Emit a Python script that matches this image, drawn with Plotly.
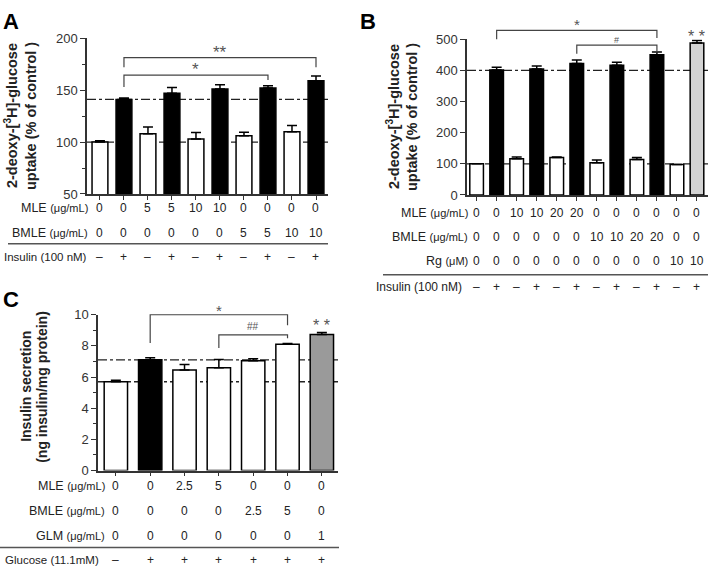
import plotly.graph_objects as go

W, H = 709, 575
FONT = "Liberation Sans, Arial, sans-serif"

# ---------------- data ----------------
A_values = [100, 141, 108, 147, 103, 151, 106, 152, 110, 159]
A_errors = [1.3, 1.3, 6.4, 5.4, 6.3, 4.1, 3.5, 2.2, 6.0, 4.7]
A_colors = ["white", "black", "white", "black", "white", "black", "white", "black", "white", "black"]
A_MLE = ["0", "0", "5", "5", "10", "10", "0", "0", "0", "0"]
A_BMLE = ["0", "0", "0", "0", "0", "0", "5", "5", "10", "10"]
A_insulin = ["–", "+", "–", "+", "–", "+", "–", "+", "–", "+"]
A_refs = [100, 141]

B_values = [100, 401, 116, 404, 120, 422, 103, 416, 114, 450, 98, 488]
B_errors = [0, 9, 6, 10, 2, 11, 9, 10, 6, 9, 0, 8]
B_colors = ["white", "black", "white", "black", "white", "black", "white", "black", "white", "black", "white", "#d3d3d3"]
B_MLE = ["0", "0", "10", "10", "20", "20", "0", "0", "0", "0", "0", "0"]
B_BMLE = ["0", "0", "0", "0", "0", "0", "10", "10", "20", "20", "0", "0"]
B_Rg = ["0", "0", "0", "0", "0", "0", "0", "0", "0", "0", "10", "10"]
B_insulin = ["–", "+", "–", "+", "–", "+", "–", "+", "–", "+", "–", "+"]
B_refs = [100, 400]

C_values = [5.7, 7.12, 6.45, 6.6, 7.05, 8.1, 8.74]
C_errors = [0.1, 0.12, 0.35, 0.53, 0.12, 0.06, 0.12]
C_colors = ["white", "black", "white", "white", "white", "white", "#9a9a9a"]
C_MLE = ["0", "0", "2.5", "5", "0", "0", "0"]
C_BMLE = ["0", "0", "0", "0", "2.5", "5", "0"]
C_GLM = ["0", "0", "0", "0", "0", "0", "1"]
C_glucose = ["–", "+", "+", "+", "+", "+", "+"]
C_refs = [5.7, 7.1]

# ---------------- layout helpers ----------------
P = {
    "A": dict(xd=(87, 328), yd=(192, 32), xr=(-0.54, 9.5), yr=(50, 200), ax="", bw=0.66),
    "B": dict(xd=(467, 708), yd=(193, 33), xr=(-0.48, 11.55), yr=(0, 500), ax="2", bw=0.68),
    "C": dict(xd=(98, 338), yd=(476, 316), xr=(-0.52, 6.47), yr=(0, 10), ax="3", bw=0.68),
}


def xpx(p, v):
    g = P[p]
    return g["xd"][0] + (v - g["xr"][0]) / (g["xr"][1] - g["xr"][0]) * (g["xd"][1] - g["xd"][0])


def ypx(p, v):
    g = P[p]
    return g["yd"][0] + (v - g["yr"][0]) / (g["yr"][1] - g["yr"][0]) * (g["yd"][1] - g["yd"][0])


def fx(px):
    return px / W


def fy(py):
    return 1 - py / H


fig = go.Figure()
shapes = []
annots = []


def note(px, py, text, size, color="#222", xa="center", ya="middle", angle=0):
    annots.append(dict(x=fx(px), y=fy(py), xref="paper", yref="paper", text=text,
                       xanchor=xa, yanchor=ya, textangle=angle, showarrow=False,
                       font=dict(size=size, color=color, family=FONT)))


def panel(p, values, errors, colors, refs, ref_dash):
    g = P[p]
    n = len(values)
    fig.add_trace(go.Bar(
        x=list(range(n)), y=values, width=g["bw"],
        marker=dict(color=colors, line=dict(color="black", width=1.5)),
        error_y=dict(type="data", symmetric=False, array=errors, arrayminus=[0] * n,
                     color="black", thickness=1.5, width=5),
        xaxis="x" + g["ax"], yaxis="y" + g["ax"], showlegend=False,
    ))
    for r, d in zip(refs, ref_dash):
        shapes.append(dict(type="line", xref="x" + g["ax"] + " domain", x0=0, x1=1,
                           yref="y" + g["ax"], y0=r, y1=r, layer="below",
                           line=dict(color="#222", width=1.3, dash=d)))


panel("A", A_values, A_errors, A_colors, A_refs, ["dash", "dashdot"])
panel("B", B_values, B_errors, B_colors, B_refs, ["dash", "dashdot"])
panel("C", C_values, C_errors, C_colors, C_refs, ["dashdot", "dashdot"])

# significance brackets: (panel, i0, i1, y_bar, y_left, y_right, label, y_label, size)
brackets = [
    ("A", 1, 9, 181.3, 172, 172, "**", 186.5, 17),
    ("A", 1, 7, 164.4, 153, 159.7, "*", 169.5, 17),
    ("B", 1, 9, 528, 500, 504, "*", 546, 15),
    ("B", 5, 9, 481, 453, 456, "#", 496, 9),
    ("C", 1, 5, 10.0, 8.19, 9.33, "*", 10.3, 15),
    ("C", 3, 5, 8.71, 7.87, 8.5, "##", 9.22, 10),
]
for p, i0, i1, yb, yl, yr_, lab, ylab, sz in brackets:
    x0, x1 = xpx(p, i0), xpx(p, i1)
    path = "M {},{} L {},{} L {},{} L {},{}".format(
        fx(x0), fy(ypx(p, yl)), fx(x0), fy(ypx(p, yb)),
        fx(x1), fy(ypx(p, yb)), fx(x1), fy(ypx(p, yr_)))
    shapes.append(dict(type="path", xref="paper", yref="paper", path=path,
                       line=dict(color="#444", width=1.2)))
    note((x0 + x1) / 2, ypx(p, ylab), lab, sz, color="#555")

# stars above single bars: (panel, index, y, label)
single_marks = [("B", 11, 509, "* *"), ("C", 6, 9.33, "* *")]
for p, i, yv, lab in single_marks:
    note(xpx(p, i), ypx(p, yv), lab, 16, color="#555")

# ---------------- condition tables ----------------
U = "<span style='font-size:11px'>(μg/mL)</span>"
# (panel, [(label, values, row y px, label right px, label size)])
tables = [
    ("A", [("MLE " + U, A_MLE, 206, 90, 12.5), ("BMLE " + U, A_BMLE, 232, 90, 12.5),
           ("Insulin (100 nM)", A_insulin, 257, 89, 11.5)]),
    ("B", [("MLE " + U, B_MLE, 212, 470, 12.5), ("BMLE " + U, B_BMLE, 236, 470, 12.5),
           ("Rg <span style='font-size:11px'>(μM)</span>", B_Rg, 261, 470, 12.5),
           ("Insulin (100 nM)", B_insulin, 287, 464, 12)]),
    ("C", [("MLE " + U, C_MLE, 492, 107, 12.5), ("BMLE " + U, C_BMLE, 517, 107, 12.5),
           ("GLM " + U, C_GLM, 543, 107, 12.5), ("Glucose (11.1mM)", C_glucose, 568, 101, 11.5)]),
]
for p, rows in tables:
    for lab, vals, py, rx, sz in rows:
        note(rx, py, lab, sz, xa="right")
        for i, v in enumerate(vals):
            note(xpx(p, i), py, v, 12)

# separator lines (pixel extents)
for x0, x1, py in [(8, 328, 243), (383, 708, 275), (0, 339, 555)]:
    shapes.append(dict(type="line", xref="paper", yref="paper", x0=fx(x0), x1=fx(x1),
                       y0=fy(py), y1=fy(py), line=dict(color="#555", width=1.5)))

# y-axis titles
ytitles = [
    ("2-deoxy-[<sup>3</sup>H]-glucose", 11, 112, 14.5), ("uptake (% of control )", 31, 112, 14.5),
    ("2-deoxy-[<sup>3</sup>H]-glucose", 393, 113, 14.5), ("uptake (% of control )", 412, 113, 14.5),
    ("Insulin secretion", 26, 390, 14), ("(ng insulin/mg protein)", 42, 390, 14),
]
for t, px, py, sz in ytitles:
    note(px, py, "<b>" + t + "</b>", sz, angle=-90)

# panel letters
for t, px, py in [("A", 1, 0), ("B", 358, 0), ("C", 1, 285)]:
    note(px, py, "<b>" + t + "</b>", 22, color="black", xa="left", ya="top")

# ---------------- axes ----------------
yticks = {"A": ([50, 100, 150, 200], [75, 125, 175]),
          "B": ([0, 100, 200, 300, 400, 500], []),
          "C": ([0, 2, 4, 6, 8, 10], [1, 3, 5, 7, 9])}
nbars = {"A": len(A_values), "B": len(B_values), "C": len(C_values)}
axstyle = dict(showline=True, linecolor="#333", linewidth=1.5, ticks="outside", tickcolor="#333",
               tickwidth=1.3, showgrid=False, zeroline=False, fixedrange=True)
layout_axes = {}
for p, g in P.items():
    layout_axes["xaxis" + g["ax"]] = dict(
        domain=[fx(g["xd"][0]), fx(g["xd"][1])], range=list(g["xr"]), anchor="y" + g["ax"],
        tickvals=list(range(nbars[p])), showticklabels=False, ticklen=4, **axstyle)
    major, minor = yticks[p]
    ydict = dict(domain=[fy(g["yd"][0]), fy(g["yd"][1])], range=list(g["yr"]), anchor="x" + g["ax"],
                 tickvals=major, ticklen=5, tickfont=dict(size=13, color="#333", family=FONT), **axstyle)
    if minor:
        ydict["minor"] = dict(tickvals=minor, ticks="outside", ticklen=3, tickcolor="#333", tickwidth=1.2)
    layout_axes["yaxis" + g["ax"]] = ydict

fig.update_layout(
    width=W, height=H, margin=dict(l=0, r=0, t=0, b=0),
    paper_bgcolor="white", plot_bgcolor="white",
    font=dict(family=FONT, color="#222"),
    shapes=shapes, annotations=annots, showlegend=False,
    **layout_axes,
)
fig.write_html("out.html", config={"displayModeBar": False},
               post_script="document.body.style.margin='0';document.body.style.overflow='hidden';")
